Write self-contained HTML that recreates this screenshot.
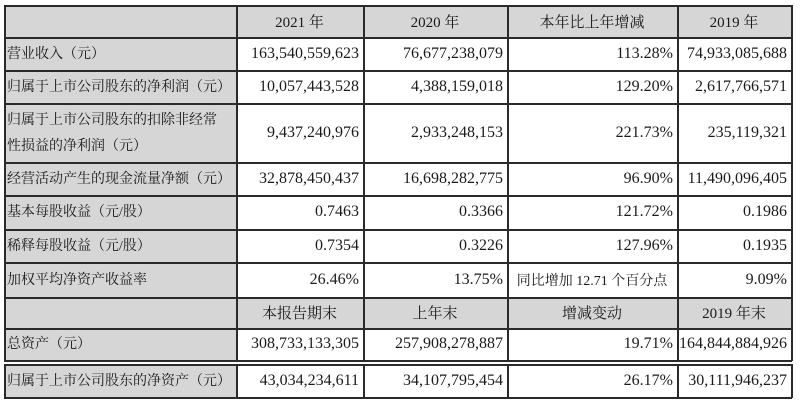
<!DOCTYPE html>
<html><head><meta charset="utf-8"><style>
body{margin:0;width:800px;height:404px;background:#fff;position:relative;overflow:hidden;font-family:"Liberation Serif","Noto Serif CJK SC",serif;color:#1a1a1a}
.c{position:absolute;box-sizing:border-box;display:flex;align-items:center;font-size:16px;padding:0 4px}
.g{background:#d6d6d6}
.l{font-size:14px;justify-content:flex-start;line-height:26px;padding-left:3px;padding-top:2px}
.r{justify-content:flex-end}
.m{justify-content:center;font-size:15px}
.h{position:absolute;background:#2a2a2a;height:1.5px}
.v{position:absolute;background:#2a2a2a;width:1.5px}
</style></head><body>
<div id="t"></div>
<script>
const cols=[4,236,363,507,677,791];
const rows=[5,37,70,103,162,195,229,262,297,328,360,364,397];
const data=[
 ["","2021 年","2020 年","本年比上年增减","2019 年"],
 ["营业收入（元）","163,540,559,623","76,677,238,079","113.28%","74,933,085,688"],
 ["归属于上市公司股东的净利润（元）","10,057,443,528","4,388,159,018","129.20%","2,617,766,571"],
 ["归属于上市公司股东的扣除非经常<br>性损益的净利润（元）","9,437,240,976","2,933,248,153","221.73%","235,119,321"],
 ["经营活动产生的现金流量净额（元）","32,878,450,437","16,698,282,775","96.90%","11,490,096,405"],
 ["基本每股收益（元/股）","0.7463","0.3366","121.72%","0.1986"],
 ["稀释每股收益（元/股）","0.7354","0.3226","127.96%","0.1935"],
 ["加权平均净资产收益率","26.46%","13.75%","同比增加 12.71 个百分点","9.09%"],
 ["","本报告期末","上年末","增减变动","2019 年末"],
 ["总资产（元）","308,733,133,305","257,908,278,887","19.71%","164,844,884,926"],
 null,
 ["归属于上市公司股东的净资产（元）","43,034,234,611","34,107,795,454","26.17%","30,111,946,237"]
];
const t=document.getElementById('t');
data.forEach((row,ri)=>{
 if(!row)return;
 const hdr=(ri===0||ri===8);
 row.forEach((txt,ci)=>{
  const d=document.createElement('div');
  
  
  let cls='c';
  if(hdr||ci===0)cls+=' g';
  if(ci===0)cls+=' l';else if(hdr)cls+=' m';else if(ri===7&&ci===3)cls+=' m';else cls+=' r';
  d.className=cls;
  d.style.left=cols[ci]+'px';d.style.width=(cols[ci+1]-cols[ci])+'px';
  d.style.top=rows[ri]+'px';d.style.height=(rows[ri+1]-rows[ri])+'px';
  if(ri===7&&ci===3){d.style.fontSize='14px';d.style.padding='0 2px';}
  d.innerHTML=txt;
  t.appendChild(d);
 });
});
rows.forEach(y=>{const h=document.createElement('div');h.className='h';


h.style.left=cols[0]+'px';h.style.width=(cols[5]-cols[0]+1)+'px';h.style.top=y+'px';t.appendChild(h);});
cols.forEach(x=>{[[rows[0],rows[10]],[rows[11],rows[12]]].forEach(([a,b])=>{const v=document.createElement('div');v.className='v';


v.style.left=x+'px';v.style.top=a+'px';v.style.height=(b-a+1)+'px';t.appendChild(v);});});
</script>
</body></html>
